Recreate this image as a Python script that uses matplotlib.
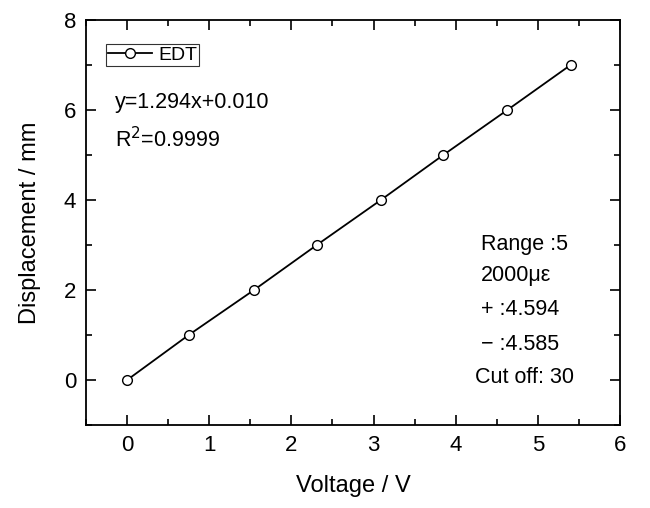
import matplotlib
matplotlib.use("Agg")
import matplotlib.pyplot as plt
from matplotlib.ticker import MultipleLocator

plt.rcParams['font.family'] = ['Liberation Sans', 'DejaVu Sans']

### data
voltage = [0, 0.75, 1.545, 2.31, 3.09, 3.85, 4.63, 5.40]
displacement = [0, 1, 2, 3, 4, 5, 6, 7]

fig = plt.figure(figsize=(6.5, 5.08), dpi=100)
ax = fig.add_axes([0.132, 0.163, 0.822, 0.798])

ax.plot(voltage, displacement, color='black', lw=1.3, marker='o', ms=7,
        mfc='white', mec='black', mew=1.0, label='EDT')

ax.set_xlim(-0.5, 6)
ax.set_ylim(-1, 8)
ax.xaxis.set_major_locator(MultipleLocator(1))
ax.xaxis.set_minor_locator(MultipleLocator(0.5))
ax.yaxis.set_major_locator(MultipleLocator(2))
ax.yaxis.set_minor_locator(MultipleLocator(1))
ax.tick_params(which='both', direction='in', top=True, right=True, labelsize=16, width=1.2, pad=7)
ax.tick_params(which='major', length=7)
ax.tick_params(which='minor', length=4)
for s in ax.spines.values():
    s.set_linewidth(1.3)

ax.set_xlabel('Voltage / V', fontsize=17, labelpad=14)
ax.set_ylabel('Displacement / mm', fontsize=17, labelpad=16)

leg = ax.legend(loc='upper left', bbox_to_anchor=(0.037, 0.94), fontsize=14,
                frameon=True, fancybox=False, edgecolor='black', handlelength=2.3,
                handletextpad=0.3, borderpad=0.1, borderaxespad=0)
leg.get_frame().set_linewidth(0.8)

ax.text(0.055, 0.795, 'y=1.294x+0.010', transform=ax.transAxes, fontsize=15.5, va='center')
ax.text(0.055, 0.705, r'R$^2$=0.9999', transform=ax.transAxes, fontsize=15.5, va='center')

ax.text(0.74, 0.445, 'Range :5', transform=ax.transAxes, fontsize=15.5, va='center')
ax.text(0.74, 0.37, '2000\u03bc\u03b5', transform=ax.transAxes, fontsize=15.5, va='center')
ax.text(0.74, 0.285, '+ :4.594', transform=ax.transAxes, fontsize=15.5, va='center')
ax.text(0.74, 0.2, '\u2212 :4.585', transform=ax.transAxes, fontsize=15.5, va='center')
ax.text(0.728, 0.118, 'Cut off: 30', transform=ax.transAxes, fontsize=15.5, va='center')

fig.savefig('out.png', dpi=100)
